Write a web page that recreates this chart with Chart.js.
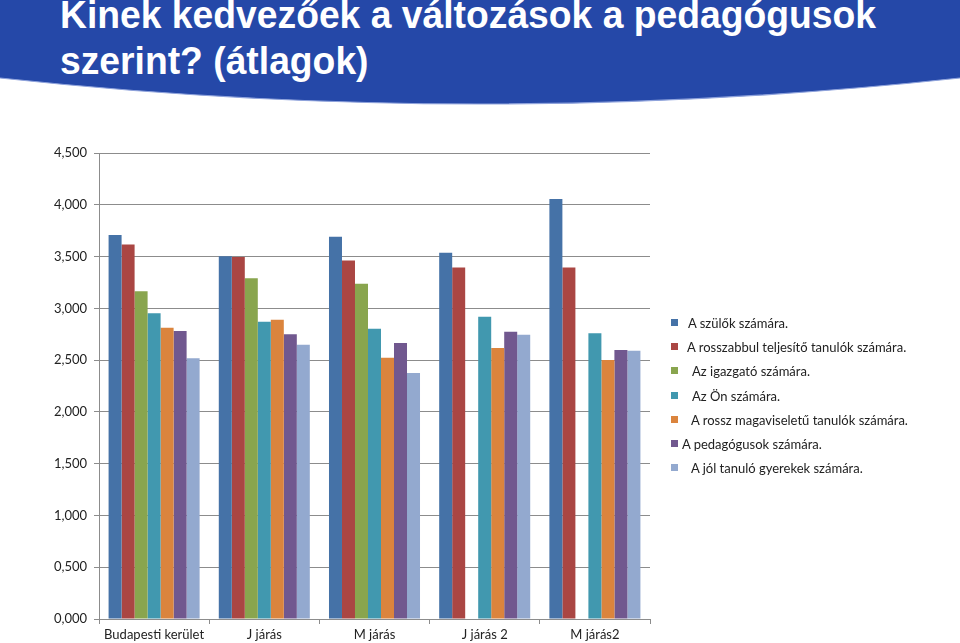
<!DOCTYPE html>
<html lang="hu">
<head>
    <meta charset="UTF-8">
    <title>Kinek kedvezőek a változások</title>
    <script src="https://cdn.jsdelivr.net/npm/chart.js"></script>
    <style>
        html, body {
            margin: 0;
            padding: 0;
            background: #fff;
        }
        .page {
            position: relative;
            width: 960px;
            height: 643px;
            overflow: hidden;
        }
        #banner {
            position: absolute;
            left: 0;
            top: 0;
        }
        .title-line {
            position: absolute;
            left: 60px;
            color: #fff;
            font-family: "Liberation Sans", Arial, sans-serif;
            font-weight: bold;
            font-size: 38px;
            line-height: 40px;
            white-space: nowrap;
            transform-origin: 0 0;
        }
        #myChart {
            position: absolute;
            left: 0;
            top: 0;
        }
        .legend {
            position: absolute;
            left: 671px;
            top: 316px;
            font-family: Lato, "Open Sans", sans-serif;
            font-size: 13px;
            color: #222;
        }
        .legend-item {
            position: relative;
            height: 24.2px;
            line-height: 14px;
            white-space: nowrap;
        }
        .legend-item .box {
            position: absolute;
            left: 0;
            top: 3px;
            width: 7px;
            height: 7px;
        }
        .legend-item span.txt {
            position: absolute;
            top: 0;
        }
    </style>
</head>
<body>
<div class="page">
    <svg id="banner" width="960" height="110">
        <path d="M0 0 H960 V78 Q480 130 0 78 Z" fill="#2548a8"/>
        <path d="M0 78 Q480 130 960 78" fill="none" stroke="#8fa3dc" stroke-width="1.2"/>
    </svg>
    <div class="title-line" id="t1">Kinek kedvezőek a változások a pedagógusok</div>
    <div class="title-line" id="t2">szerint? (átlagok)</div>
    <canvas id="myChart" width="960" height="643"></canvas>
    <div class="legend" id="legend"></div>
</div>

<script>
    // adatok
    const categories = ['Budapesti kerület', 'J járás', 'M járás', 'J járás 2', 'M járás2'];
    const seriesNames = [
        'A szülők számára.',
        'A rosszabbul teljesítő tanulók számára.',
        'Az igazgató számára.',
        'Az Ön számára.',
        'A rossz magaviseletű tanulók számára.',
        'A pedagógusok számára.',
        'A jól tanuló gyerekek számára.'
    ];
    const szulok      = [3.708, 3.502, 3.692, 3.537, 4.055];
    const rosszabbul  = [3.617, 3.496, 3.463, 3.395, 3.395];
    const igazgato    = [3.164, 3.290, 3.238, null, null];
    const on          = [2.952, 2.871, 2.803, 2.919, 2.759];
    const magaviselet = [2.813, 2.890, 2.523, 2.617, 2.501];
    const pedagogusok = [2.781, 2.749, 2.665, 2.774, 2.598];
    const joltanulo   = [2.517, 2.649, 2.375, 2.745, 2.591];
    const yTicks = [0, 0.5, 1, 1.5, 2, 2.5, 3, 3.5, 4, 4.5];

    const colors = ['#4572A7', '#AA4643', '#89A54E', '#4198AF', '#DB843D', '#71588F', '#93A9CF'];
    const allSeries = [szulok, rosszabbul, igazgato, on, magaviselet, pedagogusok, joltanulo];

    // cím: a sor szélessége mint az eredetin
    const mctx = document.createElement('canvas').getContext('2d');
    mctx.font = 'bold 38px "Liberation Sans"';
    const t1 = document.getElementById('t1');
    const t2 = document.getElementById('t2');
    const sx = 816 / mctx.measureText(t1.textContent).width;
    [t1, t2].forEach(el => {
        el.style.transform = 'scaleX(' + sx + ')';
    });
    t1.style.top = '-5px';
    t2.style.top = '41px';

    const gridColor = '#8c8c8c';
    const fontFam = 'Lato, "Open Sans", sans-serif';

    const ctx = document.getElementById('myChart').getContext('2d');
    new Chart(ctx, {
        type: 'bar',
        data: {
            labels: categories,
            datasets: allSeries.map((d, i) => ({
                label: seriesNames[i],
                data: d,
                backgroundColor: colors[i],
                borderWidth: 0,
                categoryPercentage: 0.826,
                barPercentage: 1
            }))
        },
        options: {
            responsive: false,
            animation: false,
            layout: {
                padding: { top: 153, right: 310, bottom: 0, left: 0 }
            },
            plugins: {
                legend: { display: false },
                tooltip: { enabled: false }
            },
            scales: {
                x: {
                    grid: {
                        offset: true,
                        drawOnChartArea: false,
                        color: gridColor,
                        tickLength: 5
                    },
                    border: { color: gridColor },
                    ticks: {
                        color: '#222',
                        font: { family: fontFam, size: 13 },
                        padding: 3,
                        maxRotation: 0
                    },
                    afterFit: (scale) => { scale.height = 24; }
                },
                y: {
                    min: 0,
                    max: 4.5,
                    afterBuildTicks: (scale) => {
                        scale.ticks = yTicks.map(v => ({ value: v }));
                    },
                    grid: {
                        color: gridColor,
                        tickLength: 5
                    },
                    border: { color: gridColor },
                    ticks: {
                        color: '#222',
                        font: { family: fontFam, size: 13 },
                        padding: 7,
                        callback: (v) => Number(v).toFixed(3).replace('.', ',')
                    },
                    afterFit: (scale) => { scale.width = 99; }
                }
            }
        }
    });

    // jelmagyarázat
    const textIndent = [17, 16, 21, 21, 20, 11, 20];
    const legend = document.getElementById('legend');
    seriesNames.forEach((name, i) => {
        const item = document.createElement('div');
        item.className = 'legend-item';
        item.innerHTML = '<span class="box" style="background:' + colors[i] + '"></span>' +
            '<span class="txt" style="left:' + textIndent[i] + 'px">' + name + '</span>';
        legend.appendChild(item);
    });
</script>
</body>
</html>
